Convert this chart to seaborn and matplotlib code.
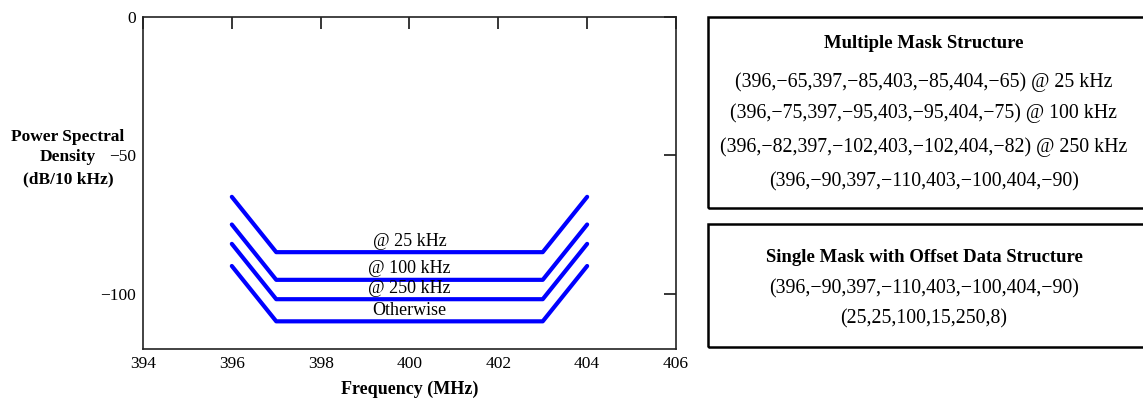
import matplotlib
matplotlib.use("Agg")
import matplotlib.pyplot as plt
import seaborn as sns
import pandas as pd
from matplotlib.patches import Rectangle

# Mask break points (MHz) and levels (dB/10 kHz) for each channel condition
freq_mhz = [396, 397, 403, 404]
mask_names = ["@ 25 kHz", "@ 100 kHz", "@ 250 kHz", "Otherwise"]
mask_25k = [-65, -85, -85, -65]
mask_100k = [-75, -95, -95, -75]
mask_250k = [-82, -102, -102, -82]
mask_other = [-90, -110, -110, -90]
mask_levels = [mask_25k, mask_100k, mask_250k, mask_other]

x_ticks = [394, 396, 398, 400, 402, 404, 406]
y_ticks = [0, -50, -100]
y_label_lines = ["Power Spectral", "Density", "(dB/10 kHz)"]

multi_title = "Multiple Mask Structure"
multi_rows = [
    "(396,\u221265,397,\u221285,403,\u221285,404,\u221265) @ 25 kHz",
    "(396,\u221275,397,\u221295,403,\u221295,404,\u221275) @ 100 kHz",
    "(396,\u221282,397,\u2212102,403,\u2212102,404,\u221282) @ 250 kHz",
    "(396,\u221290,397,\u2212110,403,\u2212100,404,\u221290)",
]
single_title = "Single Mask with Offset Data Structure"
single_rows = [
    "(396,\u221290,397,\u2212110,403,\u2212100,404,\u221290)",
    "(25,25,100,15,250,8)",
]

sns.set_style("white")
plt.rcParams["font.family"] = ["Liberation Serif", "DejaVu Serif"]
plt.rcParams["axes.unicode_minus"] = True
plt.rcParams["text.color"] = "black"
plt.rcParams["axes.labelcolor"] = "black"

df = pd.DataFrame(
    [
        {"freq": f, "psd": v, "mask": name}
        for name, levels in zip(mask_names, mask_levels)
        for f, v in zip(freq_mhz, levels)
    ]
)

fig = plt.figure(figsize=(11.43, 4.03), dpi=100)
ax = fig.add_axes([0.1251, 0.134, 0.4663, 0.8238])

sns.lineplot(
    data=df, x="freq", y="psd", hue="mask", hue_order=mask_names,
    palette=["#0000ff"] * len(mask_names), estimator=None, sort=False,
    linewidth=3.0, legend=False, ax=ax,
)

# Condition labels just above each flat segment
for name, levels in zip(mask_names, mask_levels):
    ax.text(400, levels[1] + 4.0, name, ha="center", va="center",
            fontsize=13, color="black")

ax.set_xlim(394, 406)
ax.set_ylim(-120, 0)
ax.set_xticks(x_ticks)
ax.set_yticks(y_ticks)
ax.tick_params(axis="both", which="both", direction="in", length=8.5,
               width=1.1, top=True, right=True, labelsize=12.5,
               colors="black", pad=5)
for s in ax.spines.values():
    s.set_visible(True)
    s.set_linewidth(1.2)
    s.set_color("#222222")

ax.set_xlabel("Frequency (MHz)", fontsize=13, fontweight="bold", labelpad=6)
ax.set_ylabel("")

# Horizontal y-axis title, one line per text so it sits beside the tick labels
for line, ypx in zip(y_label_lines, [137, 157, 179]):
    fig.text(68 / 1143, 1 - ypx / 403, line, ha="center", va="center",
             fontsize=12.5, fontweight="bold")

# Data-structure boxes on the right
box_x = 708 / 1143
for top_px, bot_px in [(17, 208), (224, 347)]:
    fig.patches.append(Rectangle(
        (box_x, 1 - bot_px / 403), 0.5, (bot_px - top_px) / 403,
        transform=fig.transFigure, fill=False, edgecolor="black",
        linewidth=1.8, clip_on=False))

cx = 924 / 1143
fig.text(cx, 1 - 44 / 403, multi_title, ha="center", va="center",
         fontsize=13.5, fontweight="bold")
for row, ypx in zip(multi_rows, [82, 113, 147, 182]):
    fig.text(cx, 1 - ypx / 403, row, ha="center", va="center", fontsize=14.3)

fig.text(cx, 1 - 258 / 403, single_title, ha="center", va="center",
         fontsize=13.5, fontweight="bold")
for row, ypx in zip(single_rows, [289, 319]):
    fig.text(cx, 1 - ypx / 403, row, ha="center", va="center", fontsize=14.3)

fig.savefig("out.png", dpi=100, facecolor="white")
